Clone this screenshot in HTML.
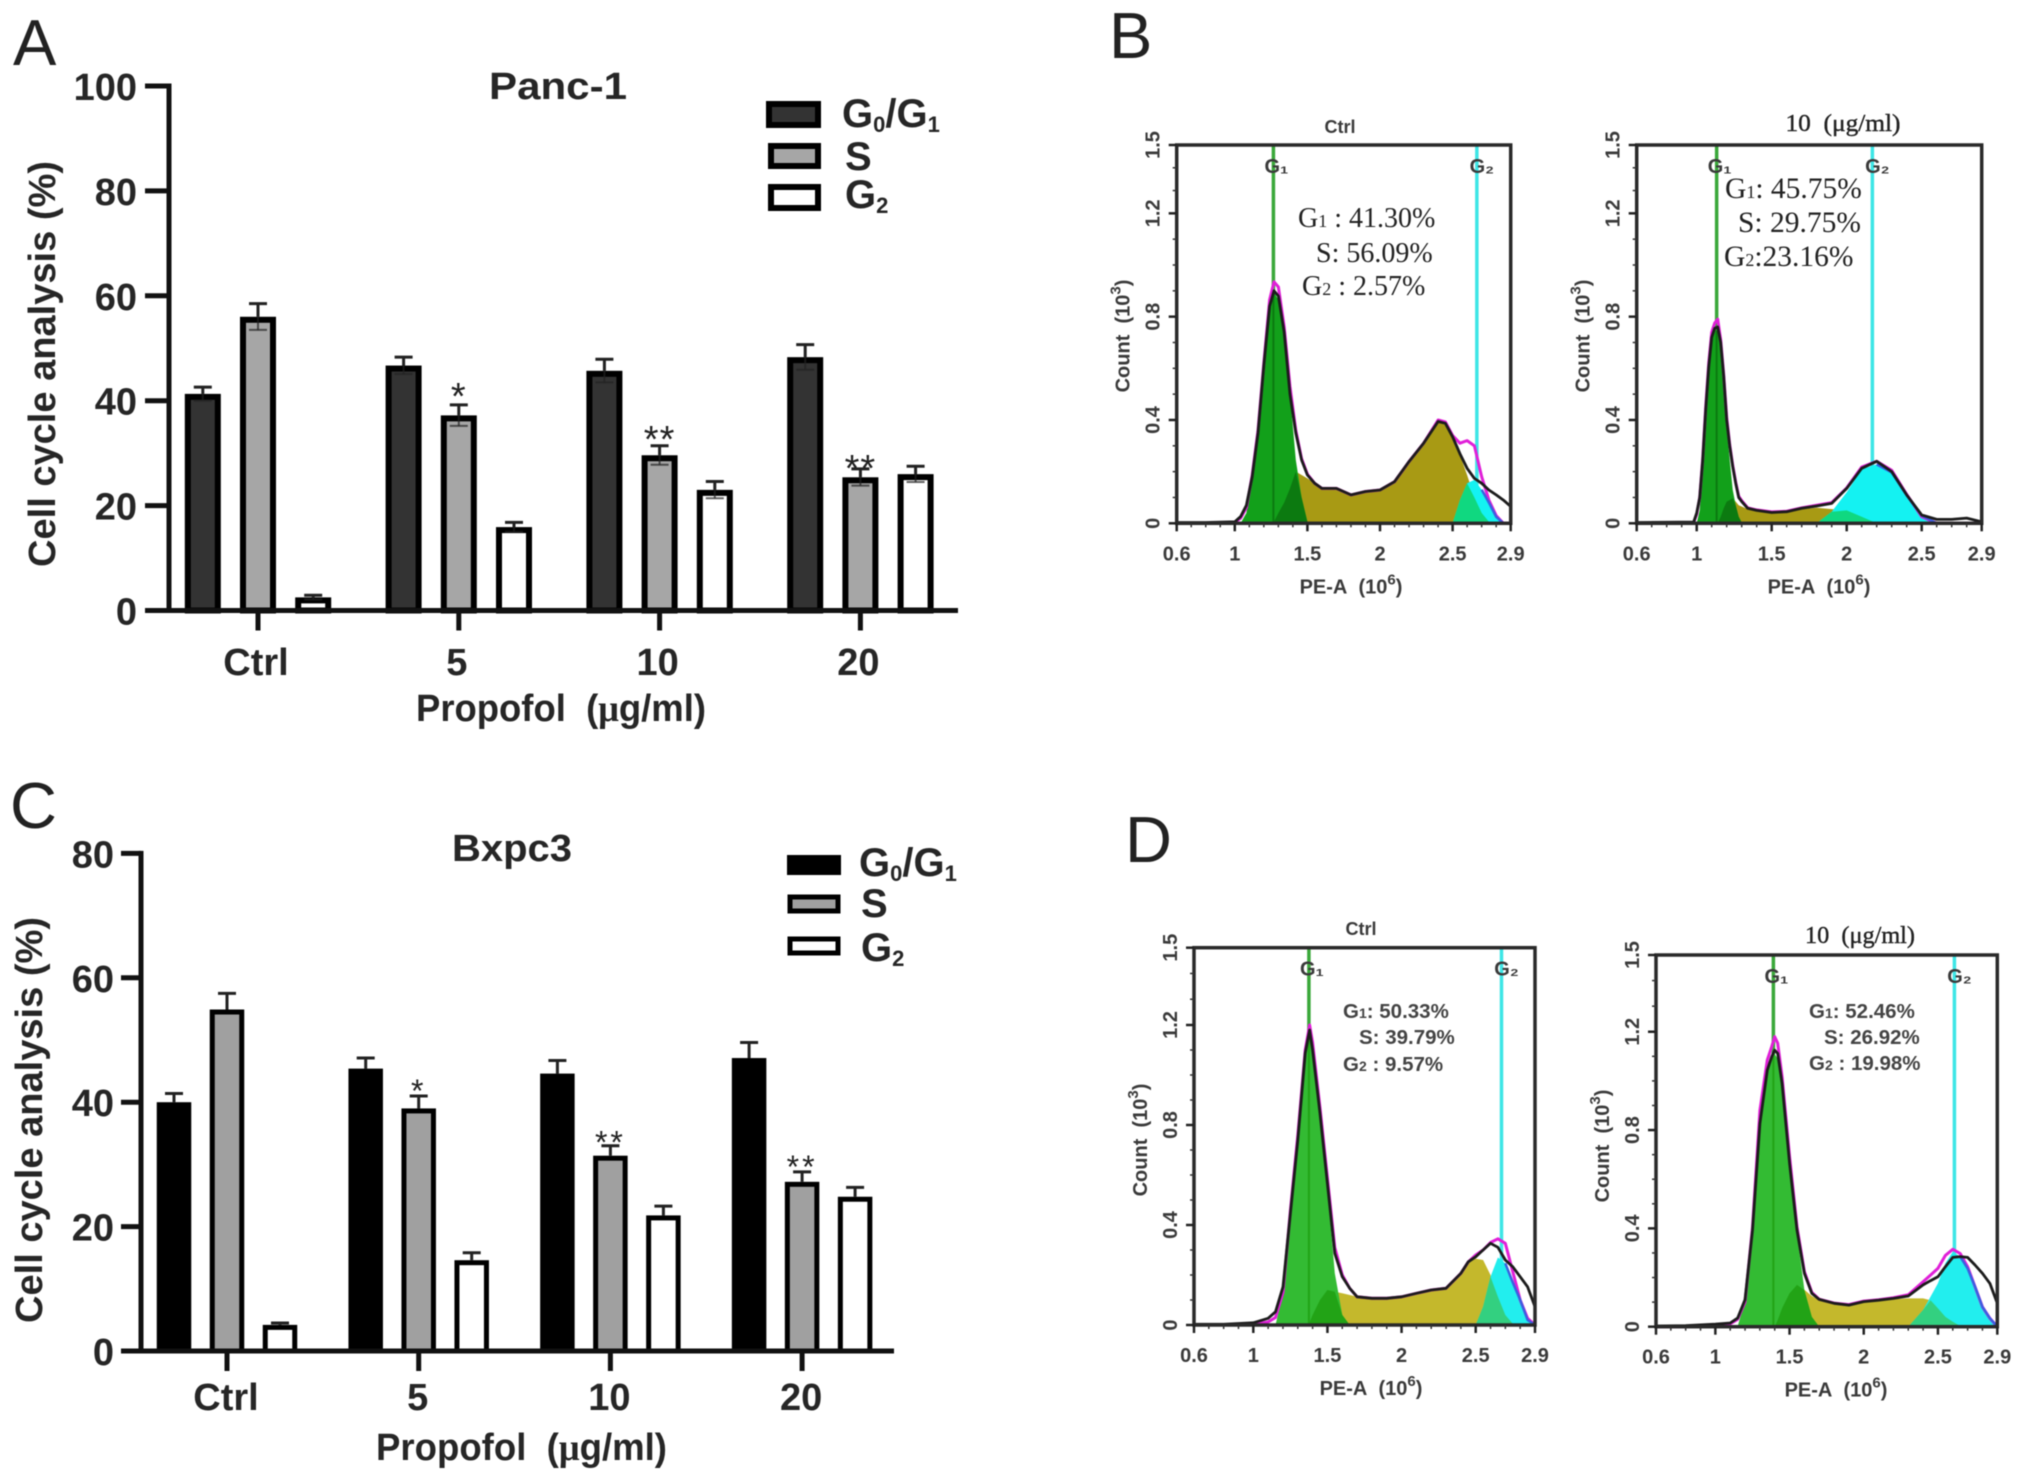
<!DOCTYPE html>
<html lang="en">
<head>
<meta charset="utf-8">
<title>Propofol cell cycle analysis</title>
<style>
html,body{margin:0;padding:0;background:#fff;width:2031px;height:1481px;overflow:hidden}
svg{display:block;filter:blur(.55px)}
text{font-family:"Liberation Sans",sans-serif}
.letter{font-size:65px;fill:#222}
.bt{font-weight:bold;fill:#262626}
.big{font-size:38px}
.leg{font-size:40px}
.serif{font-family:"Liberation Serif",serif;font-size:28px;fill:#222}
.sans{font-size:20.5px;font-weight:bold;fill:#444}
.ft{font-size:20px;font-weight:bold;fill:#3a3a3a}
</style>
</head>
<body>
<svg id="fig" xmlns="http://www.w3.org/2000/svg" width="2031" height="1481" viewBox="0 0 2031 1481">
<rect width="2031" height="1481" fill="#fff"/>
<text class="letter" x="13" y="65">A</text>
<text class="letter" x="1109" y="58">B</text>
<text class="letter" x="10" y="828">C</text>
<text class="letter" x="1125" y="862">D</text>

<text class="bt big" x="558" y="99" text-anchor="middle" textLength="138" lengthAdjust="spacingAndGlyphs">Panc-1</text>
<text class="bt big" x="512" y="861" text-anchor="middle" textLength="120" lengthAdjust="spacingAndGlyphs">Bxpc3</text>
<text class="bt big" transform="translate(55,364) rotate(-90)" text-anchor="middle" textLength="406" lengthAdjust="spacingAndGlyphs">Cell cycle analysis (%)</text>
<text class="bt big" transform="translate(42,1120) rotate(-90)" text-anchor="middle" textLength="406" lengthAdjust="spacingAndGlyphs">Cell cycle analysis (%)</text>
<text class="bt big" x="416" y="721" textLength="290" lengthAdjust="spacingAndGlyphs">Propofol&#160;&#160;(<tspan font-family="Liberation Serif">μ</tspan>g/ml)</text>
<text class="bt big" x="376" y="1460" textLength="291" lengthAdjust="spacingAndGlyphs">Propofol&#160;&#160;(<tspan font-family="Liberation Serif">μ</tspan>g/ml)</text>

<g>
<rect x="769" y="104" width="49" height="21" fill="#333" stroke="#000" stroke-width="6"/>
<rect x="771" y="146" width="47" height="20" fill="#a6a6a6" stroke="#000" stroke-width="6"/>
<rect x="771" y="187" width="47" height="21" fill="#fff" stroke="#000" stroke-width="6"/>
<text class="bt leg" x="842" y="127">G<tspan font-size="22" dy="5">0</tspan><tspan dy="-5">/G</tspan><tspan font-size="22" dy="5">1</tspan></text>
<text class="bt leg" x="845" y="170">S</text>
<text class="bt leg" x="845" y="208">G<tspan font-size="22" dy="5">2</tspan></text>
</g>
<g>
<rect x="787" y="855" width="54" height="20" fill="#000"/>
<rect x="790" y="897" width="48" height="14" fill="#a0a0a0" stroke="#000" stroke-width="5"/>
<rect x="790" y="939" width="48" height="14" fill="#fff" stroke="#000" stroke-width="5"/>
<text class="bt leg" x="859" y="876">G<tspan font-size="22" dy="5">0</tspan><tspan dy="-5">/G</tspan><tspan font-size="22" dy="5">1</tspan></text>
<text class="bt leg" x="861" y="917">S</text>
<text class="bt leg" x="861" y="961">G<tspan font-size="22" dy="5">2</tspan></text>
</g>

<g>
<text class="serif" x="1298" y="227">G<tspan font-size="18">1</tspan> : 41.30%</text>
<text class="serif" x="1316" y="262">S: 56.09%</text>
<text class="serif" x="1302" y="295">G<tspan font-size="18">2</tspan> : 2.57%</text>
</g>
<g>
<text class="serif" x="1725" y="198" style="font-size:29.5px">G<tspan font-size="18">1</tspan>: 45.75%</text>
<text class="serif" x="1738" y="232" style="font-size:29.5px">S: 29.75%</text>
<text class="serif" x="1724" y="266" style="font-size:29.5px">G<tspan font-size="18">2</tspan>:23.16%</text>
</g>
<g>
<text class="sans" x="1343" y="1018">G<tspan font-size="14">1</tspan>: 50.33%</text>
<text class="sans" x="1359" y="1044">S: 39.79%</text>
<text class="sans" x="1343" y="1071">G<tspan font-size="14">2</tspan> : 9.57%</text>
</g>
<g>
<text class="sans" x="1809" y="1018">G<tspan font-size="14">1</tspan>: 52.46%</text>
<text class="sans" x="1824" y="1044">S: 26.92%</text>
<text class="sans" x="1809" y="1070">G<tspan font-size="14">2</tspan> : 19.98%</text>
</g>
<text class="ft" x="1340" y="133" text-anchor="middle" style="font-size:18px">Ctrl</text>
<text x="1843" y="131" text-anchor="middle" font-size="24" fill="#222" stroke="#222" stroke-width=".4" textLength="115" lengthAdjust="spacingAndGlyphs" style="font-family:'Liberation Serif',serif">10&#160;&#160;(μg/ml)</text>
<text class="ft" x="1361" y="935" text-anchor="middle" style="font-size:18px">Ctrl</text>
<text x="1860" y="943" text-anchor="middle" font-size="24" fill="#222" stroke="#222" stroke-width=".4" textLength="110" lengthAdjust="spacingAndGlyphs" style="font-family:'Liberation Serif',serif">10&#160;&#160;(μg/ml)</text>
</svg>

<script>
// ---------- Bar chart data ----------
const categories = ['Ctrl', '5', '10', '20'];
const pancTicks = [0, 20, 40, 60, 80, 100];
const pancG0 = [41.3, 46.7, 45.7, 48.3];
const pancS = [56.0, 37.2, 29.6, 25.4];
const pancG2 = [2.5, 15.9, 23.0, 26.0];
const pancG0Err = [1.3, 1.6, 2.2, 2.4];
const pancSErr = [2.5, 2.0, 1.8, 1.6];
const pancG2Err = [0.4, 0.9, 1.6, 1.5];
const bxpcTicks = [0, 20, 40, 60, 80];
const bxpcG0 = [40.0, 45.4, 44.6, 47.1];
const bxpcS = [54.9, 39.0, 31.4, 27.2];
const bxpcG2 = [4.2, 14.6, 21.8, 24.8];
const bxpcG0Err = [1.4, 1.7, 2.1, 2.5];
const bxpcSErr = [2.6, 2.0, 1.6, 1.6];
const bxpcG2Err = [0.3, 1.2, 1.5, 1.5];
const significance = ['', '*', '**', '**'];

// ---------- Flow histogram data (x: PE-A 10^6, y: count 10^3) ----------
const flowXTicks = [0.6, 1, 1.5, 2, 2.5, 2.9];
const flowYTicks = [0, 0.4, 0.8, 1.2, 1.5];

const b1Pe = [.6,.8,1,1.04,1.08,1.12,1.16,1.2,1.24,1.27,1.3,1.34,1.38,1.42,1.46,1.5,1.55,1.6,1.7,1.8,1.9,2,2.1,2.2,2.3,2.4,2.45,2.5,2.55,2.6,2.65,2.7,2.75,2.8,2.85,2.9];
const b1Black = [.003,.003,.006,.026,.07,.18,.35,.61,.84,.9,.88,.74,.5,.35,.245,.187,.155,.135,.135,.11,.123,.129,.161,.239,.31,.394,.387,.335,.27,.213,.174,.155,.129,.11,.09,.065];
const b1Fit = [0,0,.004,.02,.06,.187,.36,.62,.865,.935,.915,.76,.53,.36,.25,.19,.155,.135,.135,.11,.123,.129,.161,.239,.31,.4,.392,.34,.31,.32,.3,.18,.09,.03,0,0];
const b1G1 = [0,0,0,0,.04,.18,.35,.6,.84,.895,.865,.71,.5,.245,.1,.006,0,0,0,0,0,0,0,0,0,0,0,0,0,0,0,0,0,0,0,0];
const b1S = [0,0,0,0,0,0,0,0,0,.006,.04,.08,.135,.2,.187,.174,.155,.135,.135,.11,.123,.129,.161,.239,.31,.39,.382,.33,.265,.187,.1,.04,.006,0,0,0];
const b1G2 = [0,0,0,0,0,0,0,0,0,0,0,0,0,0,0,0,0,0,0,0,0,0,0,0,0,0,0,0,.09,.155,.168,.13,.08,.025,0,0];
const b1Markers = [1.266, 2.667];

const b2Pe = [.6,.98,1,1.02,1.04,1.06,1.08,1.1,1.12,1.14,1.16,1.18,1.2,1.22,1.24,1.26,1.28,1.3,1.34,1.4,1.5,1.6,1.7,1.8,1.9,2,2.1,2.2,2.3,2.4,2.5,2.6,2.7,2.8,2.9];
const b2Black = [.003,.005,.04,.1,.245,.44,.605,.72,.755,.76,.7,.57,.4,.3,.22,.155,.1,.084,.058,.05,.042,.045,.058,.067,.077,.135,.213,.24,.2,.11,.032,.015,.015,.02,.006];
const b2Fit = [0,.003,.035,.1,.25,.45,.62,.74,.775,.79,.71,.575,.41,.305,.225,.16,.105,.088,.06,.052,.044,.047,.06,.07,.08,.137,.218,.24,.205,.112,.026,0,0,0,0];
const b2G1 = [0,0,0,.05,.22,.42,.59,.71,.74,.75,.68,.54,.38,.245,.13,.07,.025,.003,0,0,0,0,0,0,0,0,0,0,0,0,0,0,0,0,0];
const b2S = [0,0,0,0,0,0,0,0,0,0,.025,.058,.084,.09,.097,.084,.07,.065,.055,.048,.04,.042,.055,.06,.055,.05,.025,0,0,0,0,0,0,0,0];
const b2G2 = [0,0,0,0,0,0,0,0,0,0,0,0,0,0,0,0,0,0,0,0,0,0,0,0,.045,.12,.21,.228,.197,.108,.03,0,0,0,0];
const b2Markers = [1.133, 2.171];

const d1Pe = [.6,.8,1,1.1,1.15,1.2,1.25,1.3,1.35,1.38,1.4,1.45,1.5,1.55,1.6,1.65,1.7,1.8,1.9,2,2.1,2.2,2.3,2.4,2.45,2.5,2.55,2.6,2.65,2.7,2.75,2.8,2.85,2.9];
const d1Black = [.003,.003,.009,.027,.053,.153,.447,.74,1.087,1.18,1.1,.847,.567,.287,.193,.147,.113,.107,.107,.113,.127,.14,.147,.207,.253,.273,.3,.327,.311,.26,.233,.193,.153,.073];
const d1Fit = [0,0,.003,.012,.03,.13,.46,.76,1.1,1.2,1.13,.87,.59,.31,.2,.147,.113,.107,.107,.113,.127,.14,.147,.207,.253,.28,.3,.33,.345,.327,.213,.1,.027,0];
const d1G1 = [0,0,0,0,0,.127,.44,.73,1.08,1.17,1.09,.84,.55,.207,.04,0,0,0,0,0,0,0,0,0,0,0,0,0,0,0,0,0,0,0];
const d1S = [0,0,0,0,0,0,0,0,0,.01,.04,.1,.14,.133,.127,.12,.113,.107,.107,.113,.127,.14,.147,.207,.25,.265,.26,.2,.113,.04,.005,0,0,0];
const d1G2 = [0,0,0,0,0,0,0,0,0,0,0,0,0,0,0,0,0,0,0,0,0,0,0,0,0,0,.073,.193,.27,.247,.17,.1,.02,0];
const d1Markers = [1.375, 2.674];

const d2Pe = [.6,.8,1,1.1,1.15,1.2,1.25,1.3,1.35,1.38,1.4,1.42,1.45,1.5,1.55,1.6,1.65,1.7,1.8,1.9,2,2.1,2.2,2.3,2.4,2.45,2.5,2.55,2.6,2.65,2.7,2.75,2.8,2.85,2.9];
const d2Black = [.003,.004,.01,.015,.035,.11,.393,.827,1.044,1.098,1.125,1.112,.99,.664,.393,.217,.136,.111,.095,.088,.102,.108,.115,.125,.17,.187,.203,.244,.282,.285,.282,.251,.217,.176,.095];
const d2Fit = [0,0,.005,.012,.03,.1,.405,.88,1.085,1.139,1.18,1.153,1.017,.692,.407,.224,.14,.112,.096,.09,.104,.11,.118,.13,.183,.21,.237,.29,.315,.298,.244,.163,.08,.034,0];
const d2G1 = [0,0,0,0,0,.108,.39,.82,1.04,1.09,1.11,1.09,.98,.65,.38,.149,.04,0,0,0,0,0,0,0,0,0,0,0,0,0,0,0,0,0,0];
const d2S = [0,0,0,0,0,0,0,0,0,0,0,.027,.075,.136,.17,.15,.125,.108,.095,.088,.1,.108,.112,.115,.115,.108,.075,.04,.02,.003,0,0,0,0,0];
const d2G2 = [0,0,0,0,0,0,0,0,0,0,0,0,0,0,0,0,0,0,0,0,0,0,0,0,.068,.122,.176,.258,.305,.285,.237,.163,.08,.034,0];
const d2Markers = [1.391, 2.611];

const svg = document.getElementById('fig');
const NS = 'http://www.w3.org/2000/svg';
function mk(tag, attrs, parent) {
  const e = document.createElementNS(NS, tag);
  for (const k in attrs) e.setAttribute(k, attrs[k]);
  (parent || svg).appendChild(e);
  return e;
}

// ---------- Bar charts ----------
function drawBars(cfg) {
  const g = mk('g', {});
  
  
  const yS = v => cfg.y0 - v * cfg.pxPerUnit;
  const xS = i => cfg.x0 + i * cfg.step;

  cfg.ticks.forEach(t => {
    const tick = mk('line', {x1: cfg.axisX - cfg.tickLen, x2: cfg.axisX, y1: yS(t), y2: yS(t), stroke: '#111', 'stroke-width': 5}, g);
    
    
    const lab = mk('text', {x: cfg.labelX, y: yS(t) + 14, 'text-anchor': 'end', class: 'bt big'}, g);
    
    
    lab.textContent = t;
  });

  cfg.series.forEach((s, si) => {
    s.values.forEach((v, i) => {
      const cx = xS(i) + (si - 1) * cfg.offset;
      const top = yS(v + s.err[i]);
      const low = cfg.lowerErr ? yS(v - s.err[i]) : yS(v);
      const eb = mk('line', {x1: cx, x2: cx, y1: top, y2: yS(v), stroke: '#222', 'stroke-width': 3}, g);
      
      
      const cap = mk('line', {x1: cx - 9, x2: cx + 9, y1: top, y2: top, stroke: '#222', 'stroke-width': 3}, g);
      
      
      const sw = cfg.barStroke;
      const bar = mk('rect', {x: cx - cfg.barW / 2 + sw / 2, y: yS(v) + sw / 2, width: cfg.barW - sw, height: Math.max(0, yS(0) - yS(v) - sw / 2), fill: s.fill, stroke: '#000', 'stroke-width': sw}, g);
      
      
      if (cfg.lowerErr) {
        const lc = mk('line', {x1: cx - 9, x2: cx + 9, y1: low, y2: low, stroke: '#222', 'stroke-width': 2, opacity: .7}, g);
        
        
        const ll = mk('line', {x1: cx, x2: cx, y1: yS(v), y2: low, stroke: '#222', 'stroke-width': 2, opacity: .7}, g);
        
        
      }
      if (si === 1 && significance[i]) {
        const st = mk('text', {x: cx, y: top - cfg.starGap[i], 'text-anchor': 'middle', 'font-size': cfg.starSize, 'letter-spacing': cfg.starSpacing, fill: '#222'}, g);
        
        
        st.textContent = significance[i];
      }
    });
  });

  categories.forEach((c, i) => {
    const tick = mk('line', {x1: xS(i), x2: xS(i), y1: cfg.y0, y2: cfg.y0 + cfg.xTickLen, stroke: '#111', 'stroke-width': 5}, g);
    
    
    const lab = mk('text', {x: xS(i) + cfg.xLabelDx, y: cfg.xLabelY, 'text-anchor': 'middle', class: 'bt big'}, g);
    
    
    lab.textContent = c;
  });

  const ya = mk('line', {x1: cfg.axisX, x2: cfg.axisX, y1: yS(cfg.ticks[cfg.ticks.length - 1]) - 2.5, y2: cfg.y0 + 2.5, stroke: '#111', 'stroke-width': 5}, g);
  
  
  const xa = mk('line', {x1: cfg.axisX - cfg.tickLen, x2: cfg.xEnd, y1: cfg.y0, y2: cfg.y0, stroke: '#111', 'stroke-width': 5}, g);
  
  
}

drawBars({id: 'panc', y0: 610.5, pxPerUnit: 5.245, x0: 258, step: 200.8, offset: 55.2, barW: 36, barStroke: 6,
  axisX: 169, tickLen: 24, xEnd: 958, labelX: 137, xTickLen: 20, xLabelY: 675, xLabelDx: -2, ticks: pancTicks, lowerErr: true, starGap: [0, -4, -6, -12], starSize: 38, starSpacing: 1,
  series: [
    {name: 'g0g1', values: pancG0, err: pancG0Err, fill: '#333'},
    {name: 's', values: pancS, err: pancSErr, fill: '#a6a6a6'},
    {name: 'g2', values: pancG2, err: pancG2Err, fill: '#fff'}
  ]});
drawBars({id: 'bxpc', y0: 1351, pxPerUnit: 6.22, x0: 227, step: 191.7, offset: 53, barW: 34.5, barStroke: 5,
  axisX: 141, tickLen: 20, xEnd: 894, labelX: 114, xTickLen: 20, xLabelY: 1410, xLabelDx: -1, ticks: bxpcTicks, lowerErr: false, starGap: [0, -6, -8, -6], starSize: 32, starSpacing: 3,
  series: [
    {name: 'g0g1', values: bxpcG0, err: bxpcG0Err, fill: '#000'},
    {name: 's', values: bxpcS, err: bxpcSErr, fill: '#a0a0a0'},
    {name: 'g2', values: bxpcG2, err: bxpcG2Err, fill: '#fff'}
  ]});

// ---------- Flow histograms ----------
function interp(xs, ys, x) {
  for (let i = 1; i < xs.length; i++) {
    if (x <= xs[i]) {
      const t = (x - xs[i - 1]) / (xs[i] - xs[i - 1]);
      return ys[i - 1] + t * (ys[i] - ys[i - 1]);
    }
  }
  return ys[ys.length - 1];
}

function supText(parent, base, sup) {
  const a = mk('tspan', {}, parent);
  a.textContent = base;
  const b = mk('tspan', {'font-size': 15, dy: -9}, parent);
  b.textContent = sup;
  const c = mk('tspan', {dy: 9}, parent);
  c.textContent = ')';
}

function drawFlow(p) {
  const g = mk('g', {});
  
  
  const xS = v => p.L + (v - 0.6) / 2.3 * (p.R - p.L);
  const y12 = p.B - 1.2 * p.k;
  const yS = v => v <= 1.2 ? p.B - v * p.k : y12 + (v - 1.2) / 0.3 * (p.T - y12);
  const area = ys => {
    let d = 'M' + xS(p.grid[0]) + ' ' + p.B;
    p.grid.forEach((x, i) => { d += 'L' + xS(x).toFixed(1) + ' ' + yS(ys[i] || 0).toFixed(1); });
    return d + 'L' + xS(p.grid[p.grid.length - 1]) + ' ' + p.B + 'Z';
  };
  const line = ys => p.grid.map((x, i) => xS(x).toFixed(1) + ',' + yS(ys[i] || 0).toFixed(1)).join(' ');
  const overlap = (a, b) => a.map((v, i) => Math.min(v, b[i] || 0));

  const m1 = mk('line', {x1: xS(p.markers[0]), x2: xS(p.markers[0]), y1: p.T, y2: p.B, stroke: '#3aa83a', 'stroke-width': 3.5}, g);
  
  
  const m2 = mk('line', {x1: xS(p.markers[1]), x2: xS(p.markers[1]), y1: p.T, y2: p.B, stroke: '#3de6e6', 'stroke-width': 3.5}, g);
  
  

  const fs = mk('path', {d: area(p.s), fill: p.cS}, g);
  
  
  const f1 = mk('path', {d: area(p.g1), fill: p.cG1}, g);
  
  
  const fo = mk('path', {d: area(overlap(p.g1, p.s)), fill: p.cOv}, g);
  
  
  const f2 = mk('path', {d: area(p.g2), fill: p.cG2}, g);
  
  
  const fm = mk('path', {d: area(overlap(p.s, p.g2)), fill: p.cMint}, g);
  
  

  const dk = mk('line', {x1: xS(p.markers[0]), x2: xS(p.markers[0]), y1: yS(interp(p.grid, p.g1, p.markers[0])), y2: p.B, stroke: p.cOv, 'stroke-width': 2}, g);
  
  

  const fit = mk('polyline', {points: line(p.fit), fill: 'none', stroke: '#e020d8', 'stroke-width': 3, 'stroke-linejoin': 'round'}, g);
  
  
  const bl = mk('polyline', {points: p.grid.map((x, i) => x >= p.markers[1] ? xS(x).toFixed(1) + ',' + yS(p.g2[i] || 0).toFixed(1) : null).filter(Boolean).join(' '), fill: 'none', stroke: '#3a60e0', 'stroke-width': 2.5}, g);
  
  
  const hist = mk('polyline', {points: line(p.black), fill: 'none', stroke: '#1c1c1c', 'stroke-width': 2.8, 'stroke-linejoin': 'round'}, g);
  
  

  const frame = mk('rect', {x: p.L, y: p.T, width: p.R - p.L, height: p.B - p.T, fill: 'none', stroke: '#2a2a2a', 'stroke-width': 3.5}, g);
  
  

  for (let v = 0.7; v < 2.9; v += 0.1) {
    const mt = mk('line', {x1: xS(v), x2: xS(v), y1: p.B, y2: p.B + 4, stroke: '#333', 'stroke-width': 1.5}, g);
    
    
  }
  for (let v = 0.1; v < 1.5; v += 0.1) {
    const mt = mk('line', {x1: p.L - 4, x2: p.L, y1: yS(v), y2: yS(v), stroke: '#333', 'stroke-width': 1.5}, g);
    
    
  }
  flowXTicks.forEach(t => {
    const tk = mk('line', {x1: xS(t), x2: xS(t), y1: p.B, y2: p.B + 8, stroke: '#222', 'stroke-width': 2.5}, g);
    
    
    const lab = mk('text', {x: xS(t), y: p.B + 37, 'text-anchor': 'middle', class: 'ft'}, g);
    
    
    lab.textContent = t;
  });
  flowYTicks.forEach(t => {
    const tk = mk('line', {x1: p.L - 8, x2: p.L, y1: yS(t), y2: yS(t), stroke: '#222', 'stroke-width': 2.5}, g);
    
    
    const lab = mk('text', {transform: 'translate(' + (p.L - 17) + ',' + yS(t) + ') rotate(-90)', 'text-anchor': 'middle', class: 'ft'}, g);
    
    
    lab.textContent = t;
  });

  const yt = mk('text', {transform: 'translate(' + (p.L - 47) + ',' + (p.yTitleY + 3) + ') rotate(-90)', 'text-anchor': 'middle', class: 'ft'}, g);
  
  
  supText(yt, 'Count\u00a0\u00a0(10', '3');
  const xt = mk('text', {x: p.xTitleX, y: p.B + 70, 'text-anchor': 'middle', class: 'ft'}, g);
  
  
  supText(xt, 'PE-A\u00a0\u00a0(10', '6');

  const l1 = mk('text', {x: xS(p.markers[0]) + 3, y: p.T + 28, 'text-anchor': 'middle', class: 'ft', 'font-weight': 'normal'}, g);
  
  
  l1.textContent = 'G₁';
  const l2 = mk('text', {x: xS(p.markers[1]) + 5, y: p.T + 28, 'text-anchor': 'middle', class: 'ft', 'font-weight': 'normal'}, g);
  
  
  l2.textContent = 'G₂';
}

const darkPalette = {cG1: '#12a01a', cS: '#a89a14', cOv: '#0c7a10', cG2: '#14f2f2', cMint: '#10d880'};
const lightPalette = {cG1: '#33bb33', cS: '#c4b82c', cOv: '#22a316', cG2: '#22eeee', cMint: '#33d080'};

drawFlow(Object.assign({id: 'b1', L: 1176.7, R: 1510.7, T: 145, B: 523.3, k: 258.3, yTitleY: 333, xTitleX: 1351,
  grid: b1Pe, black: b1Black, fit: b1Fit, g1: b1G1, s: b1S, g2: b1G2, markers: b1Markers}, darkPalette));
drawFlow(Object.assign({id: 'b2', L: 1636.7, R: 1981.7, T: 145, B: 523.3, k: 258.3, yTitleY: 333, xTitleX: 1819,
  grid: b2Pe, black: b2Black, fit: b2Fit, g1: b2G1, s: b2S, g2: b2G2, markers: b2Markers}, darkPalette));
drawFlow(Object.assign({id: 'd1', L: 1194, R: 1535, T: 947.7, B: 1325, k: 250, yTitleY: 1137, xTitleX: 1371,
  grid: d1Pe, black: d1Black, fit: d1Fit, g1: d1G1, s: d1S, g2: d1G2, markers: d1Markers}, lightPalette));
drawFlow(Object.assign({id: 'd2', L: 1656, R: 1997.3, T: 955, B: 1326.7, k: 245.8, yTitleY: 1143, xTitleX: 1836,
  grid: d2Pe, black: d2Black, fit: d2Fit, g1: d2G1, s: d2S, g2: d2G2, markers: d2Markers}, lightPalette));
</script>
</body>
</html>
